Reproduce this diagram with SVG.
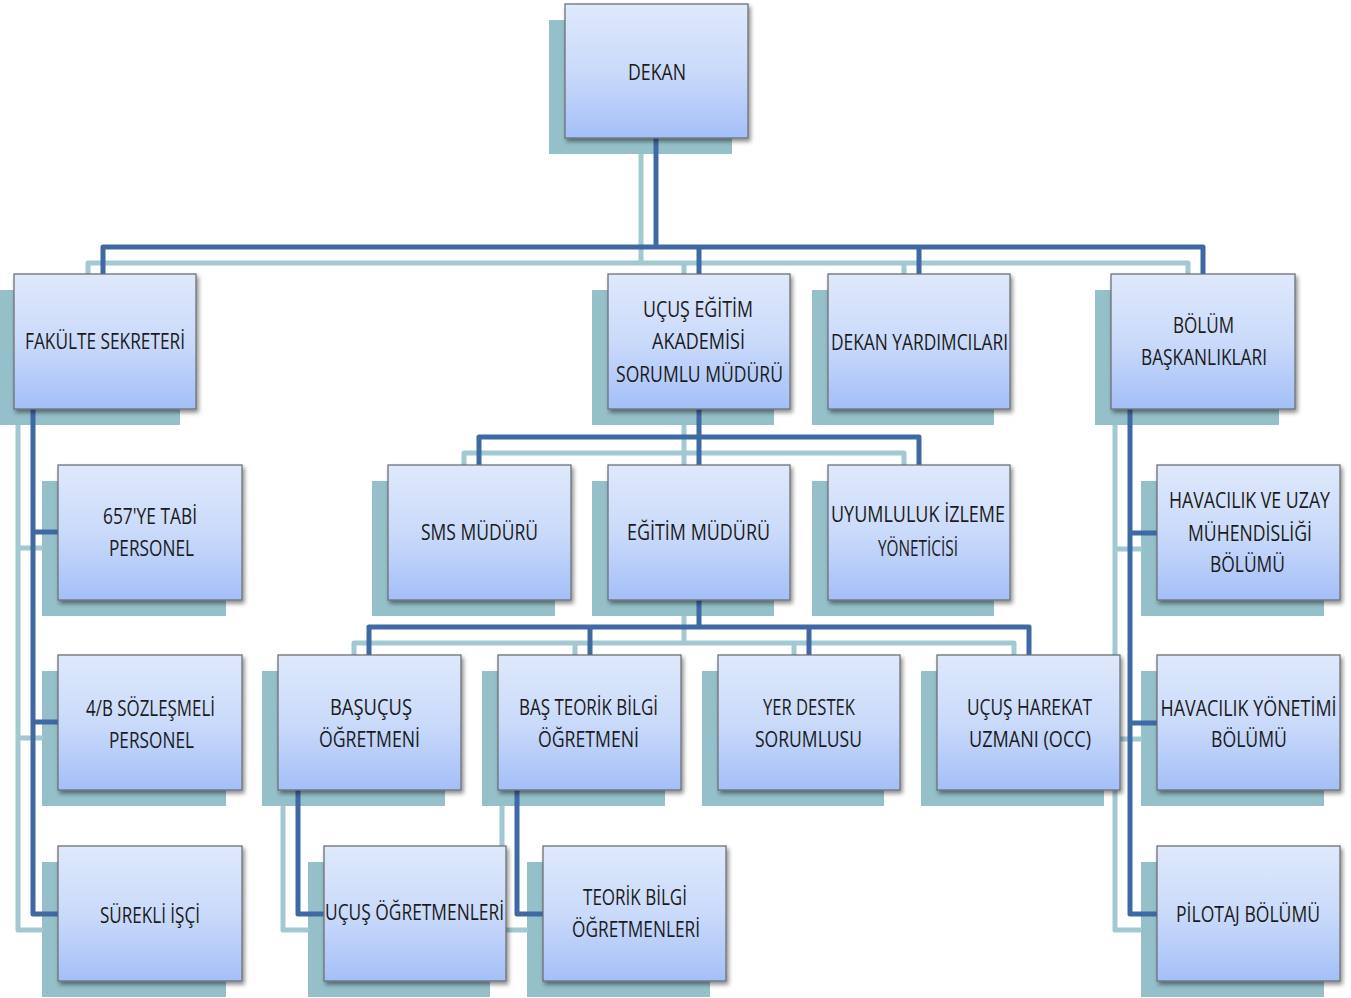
<svg xmlns="http://www.w3.org/2000/svg" width="1351" height="998" viewBox="0 0 1351 998">
<defs>
<linearGradient id="g" x1="0" y1="0" x2="0" y2="1">
<stop offset="0" stop-color="#DFE9FC"/>
<stop offset="0.5" stop-color="#CADAFA"/>
<stop offset="1" stop-color="#A4BFF8"/>
</linearGradient>
<filter id="ds" x="-10%" y="-10%" width="125%" height="130%">
<feDropShadow dx="2" dy="3" stdDeviation="2" flood-color="#000" flood-opacity="0.45"/>
</filter>
<style>
.sh{fill:#95BFC9}
.bx{fill:url(#g);stroke:#6E7177;stroke-width:1.3;filter:url(#ds)}
.dk{fill:none;stroke:#3E69A3;stroke-width:5;stroke-linejoin:round;stroke-linecap:butt}
.lt{fill:none;stroke:#A2C8D1;stroke-width:5;stroke-linejoin:round}
.t{font-family:"Open Sans","Liberation Sans Narrow","DejaVu Sans Condensed",sans-serif;font-size:21px;fill:#1B1B1B;text-anchor:middle}
</style>
</defs>
<rect width="1351" height="998" fill="#FFFFFF"/>

<g id="shadows">
<rect class="sh" x="549" y="20" width="183" height="134"/>
<rect class="sh" x="-2" y="290" width="182" height="135"/>
<rect class="sh" x="592" y="290" width="182" height="135"/>
<rect class="sh" x="812" y="290" width="182" height="135"/>
<rect class="sh" x="1095" y="290" width="184" height="135"/>
<rect class="sh" x="42" y="481" width="184" height="135"/>
<rect class="sh" x="372" y="481" width="183" height="135"/>
<rect class="sh" x="592" y="481" width="182" height="135"/>
<rect class="sh" x="812" y="481" width="182" height="135"/>
<rect class="sh" x="1141" y="481" width="183" height="135"/>
<rect class="sh" x="42" y="671" width="184" height="135"/>
<rect class="sh" x="262" y="671" width="183" height="135"/>
<rect class="sh" x="482" y="671" width="183" height="135"/>
<rect class="sh" x="702" y="671" width="182" height="135"/>
<rect class="sh" x="921" y="671" width="183" height="135"/>
<rect class="sh" x="1141" y="671" width="183" height="135"/>
<rect class="sh" x="42" y="862" width="184" height="135"/>
<rect class="sh" x="308" y="862" width="182" height="135"/>
<rect class="sh" x="527" y="862" width="183" height="135"/>
<rect class="sh" x="1141" y="862" width="183" height="135"/>
</g>

<g id="connector-shadows" transform="translate(-15,16)">
<path class="lt" d="M656,138 V247"/>
<path class="lt" d="M103,274 V247 H1203 V274"/>
<path class="lt" d="M699,247 V274 M919,247 V274"/>
<path class="lt" d="M699,409 V437 M479,465 V437 H919 V465 M699,437 V465"/>
<path class="lt" d="M699,600 V627 M369,655 V627 H1029 V655 M590,627 V655 M809,627 V655"/>
<path class="lt" d="M33,409 V914 H58 M33,532 H58 M33,722 H58"/>
<path class="lt" d="M1130,409 V914 H1157 M1130,533 H1157 M1130,723 H1157"/>
<path class="lt" d="M298,790 V914 H324"/>
<path class="lt" d="M517,790 V914 H543"/>
</g>

<g id="connectors">
<path class="dk" d="M656,138 V247"/>
<path class="dk" d="M103,274 V247 H1203 V274"/>
<path class="dk" d="M699,247 V274 M919,247 V274"/>
<path class="dk" d="M699,409 V437 M479,465 V437 H919 V465 M699,437 V465"/>
<path class="dk" d="M699,600 V627 M369,655 V627 H1029 V655 M590,627 V655 M809,627 V655"/>
<path class="dk" d="M33,409 V914 H58 M33,532 H58 M33,722 H58"/>
<path class="dk" d="M1130,409 V914 H1157 M1130,533 H1157 M1130,723 H1157"/>
<path class="dk" d="M298,790 V914 H324"/>
<path class="dk" d="M517,790 V914 H543"/>
</g>

<g id="dekan"><rect class="bx" x="565" y="4" width="183" height="134"/>
<text class="t" x="657" y="80" textLength="58" lengthAdjust="spacingAndGlyphs">DEKAN</text></g>

<g id="fakulte-sekreteri"><rect class="bx" x="14" y="274" width="182" height="135"/>
<text class="t" x="105" y="349" textLength="160" lengthAdjust="spacingAndGlyphs">FAKÜLTE SEKRETERİ</text></g>

<g id="ucus-egitim-akademisi"><rect class="bx" x="608" y="274" width="182" height="135"/>
<text class="t" x="698" y="317" textLength="110" lengthAdjust="spacingAndGlyphs">UÇUŞ EĞİTİM</text>
<text class="t" x="698.5" y="349" textLength="93" lengthAdjust="spacingAndGlyphs">AKADEMİSİ</text>
<text class="t" x="699.5" y="382" textLength="167" lengthAdjust="spacingAndGlyphs">SORUMLU MÜDÜRÜ</text></g>

<g id="dekan-yardimcilari"><rect class="bx" x="828" y="274" width="182" height="135"/>
<text class="t" x="919.5" y="350" textLength="177" lengthAdjust="spacingAndGlyphs">DEKAN YARDIMCILARI</text></g>

<g id="bolum-baskanliklari"><rect class="bx" x="1111" y="274" width="184" height="135"/>
<text class="t" x="1203.5" y="333" textLength="61" lengthAdjust="spacingAndGlyphs">BÖLÜM</text>
<text class="t" x="1204" y="365" textLength="126" lengthAdjust="spacingAndGlyphs">BAŞKANLIKLARI</text></g>

<g id="personel-657"><rect class="bx" x="58" y="465" width="184" height="135"/>
<text class="t" x="150" y="524" textLength="94" lengthAdjust="spacingAndGlyphs">657'YE TABİ</text>
<text class="t" x="151.5" y="556" textLength="85" lengthAdjust="spacingAndGlyphs">PERSONEL</text></g>

<g id="sms-muduru"><rect class="bx" x="388" y="465" width="183" height="135"/>
<text class="t" x="479.5" y="540" textLength="117" lengthAdjust="spacingAndGlyphs">SMS MÜDÜRÜ</text></g>

<g id="egitim-muduru"><rect class="bx" x="608" y="465" width="182" height="135"/>
<text class="t" x="698.5" y="540" textLength="143" lengthAdjust="spacingAndGlyphs">EĞİTİM MÜDÜRÜ</text></g>

<g id="uyumluluk-izleme"><rect class="bx" x="828" y="465" width="182" height="135"/>
<text class="t" x="918" y="522" textLength="174" lengthAdjust="spacingAndGlyphs">UYUMLULUK İZLEME</text>
<text class="t" x="918" y="556" textLength="80" lengthAdjust="spacingAndGlyphs">YÖNETİCİSİ</text></g>

<g id="havacilik-uzay"><rect class="bx" x="1157" y="465" width="183" height="135"/>
<text class="t" x="1249.5" y="508" textLength="161" lengthAdjust="spacingAndGlyphs">HAVACILIK VE UZAY</text>
<text class="t" x="1250" y="541" textLength="124" lengthAdjust="spacingAndGlyphs">MÜHENDİSLİĞİ</text>
<text class="t" x="1247.5" y="572" textLength="75" lengthAdjust="spacingAndGlyphs">BÖLÜMÜ</text></g>

<g id="sozlesmeli-4b"><rect class="bx" x="58" y="655" width="184" height="135"/>
<text class="t" x="150.5" y="716" textLength="129" lengthAdjust="spacingAndGlyphs">4/B SÖZLEŞMELİ</text>
<text class="t" x="151.5" y="748" textLength="85" lengthAdjust="spacingAndGlyphs">PERSONEL</text></g>

<g id="basucus"><rect class="bx" x="278" y="655" width="183" height="135"/>
<text class="t" x="371" y="715" textLength="82" lengthAdjust="spacingAndGlyphs">BAŞUÇUŞ</text>
<text class="t" x="369.5" y="747" textLength="101" lengthAdjust="spacingAndGlyphs">ÖĞRETMENİ</text></g>

<g id="bas-teorik"><rect class="bx" x="498" y="655" width="183" height="135"/>
<text class="t" x="588.5" y="715" textLength="139" lengthAdjust="spacingAndGlyphs">BAŞ TEORİK BİLGİ</text>
<text class="t" x="588.5" y="747" textLength="101" lengthAdjust="spacingAndGlyphs">ÖĞRETMENİ</text></g>

<g id="yer-destek"><rect class="bx" x="718" y="655" width="182" height="135"/>
<text class="t" x="809" y="715" textLength="92" lengthAdjust="spacingAndGlyphs">YER DESTEK</text>
<text class="t" x="808.5" y="747" textLength="107" lengthAdjust="spacingAndGlyphs">SORUMLUSU</text></g>

<g id="ucus-harekat"><rect class="bx" x="937" y="655" width="183" height="135"/>
<text class="t" x="1029.5" y="715" textLength="125" lengthAdjust="spacingAndGlyphs">UÇUŞ HAREKAT</text>
<text class="t" x="1030" y="747" textLength="122" lengthAdjust="spacingAndGlyphs">UZMANI (OCC)</text></g>

<g id="havacilik-yonetimi"><rect class="bx" x="1157" y="655" width="183" height="135"/>
<text class="t" x="1248.5" y="716" textLength="176" lengthAdjust="spacingAndGlyphs">HAVACILIK YÖNETİMİ</text>
<text class="t" x="1249" y="747" textLength="76" lengthAdjust="spacingAndGlyphs">BÖLÜMÜ</text></g>

<g id="surekli-isci"><rect class="bx" x="58" y="846" width="184" height="135"/>
<text class="t" x="150" y="923" textLength="100" lengthAdjust="spacingAndGlyphs">SÜREKLİ İŞÇİ</text></g>

<g id="ucus-ogretmenleri"><rect class="bx" x="324" y="846" width="182" height="135"/>
<text class="t" x="414.5" y="920" textLength="179" lengthAdjust="spacingAndGlyphs">UÇUŞ ÖĞRETMENLERİ</text></g>

<g id="teorik-bilgi"><rect class="bx" x="543" y="846" width="183" height="135"/>
<text class="t" x="635" y="905" textLength="104" lengthAdjust="spacingAndGlyphs">TEORİK BİLGİ</text>
<text class="t" x="636" y="937" textLength="128" lengthAdjust="spacingAndGlyphs">ÖĞRETMENLERİ</text></g>

<g id="pilotaj"><rect class="bx" x="1157" y="846" width="183" height="135"/>
<text class="t" x="1248" y="922" textLength="144" lengthAdjust="spacingAndGlyphs">PİLOTAJ BÖLÜMÜ</text></g>
</svg>
